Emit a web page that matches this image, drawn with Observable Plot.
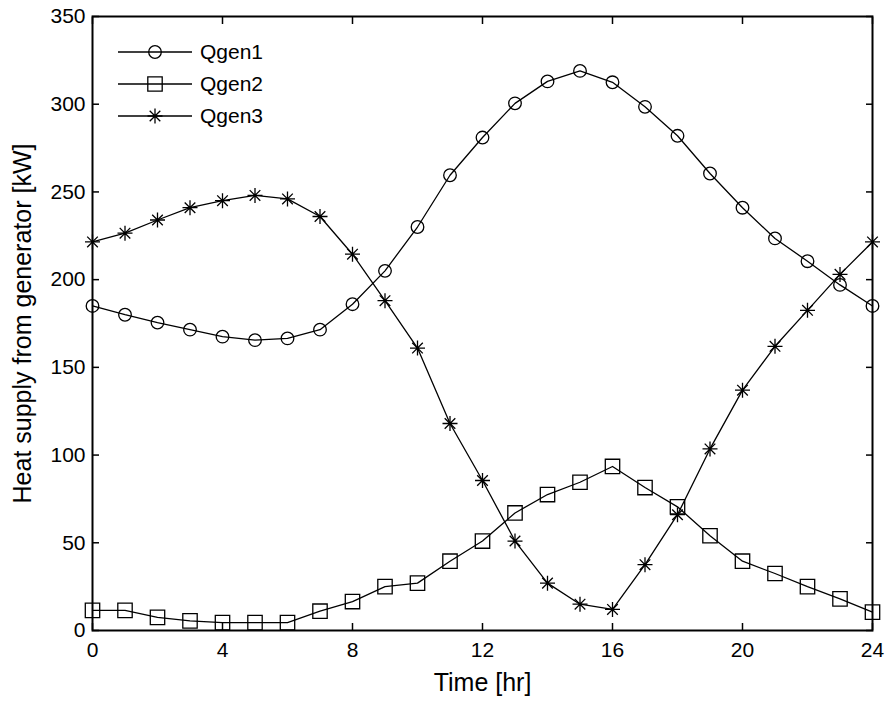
<!DOCTYPE html>
<html>
<head>
<meta charset="utf-8">
<script src="https://cdn.jsdelivr.net/npm/d3@7"></script>
<script src="https://cdn.jsdelivr.net/npm/@observablehq/plot@0.6"></script>
<style>
  html, body { margin: 0; padding: 0; background: #fff; }
  #chart svg { display: block; }
</style>
</head>
<body>
<div id="chart"></div>
<script>
// ---- data ----
const hours = [0,1,2,3,4,5,6,7,8,9,10,11,12,13,14,15,16,17,18,19,20,21,22,23,24];
const qgen1 = [185,180,175.5,171.5,167.5,165.5,166.5,171.5,186,205,230,259.5,281,300.5,313,319,312.5,298.5,282,260.5,241,223.5,210.5,197,185];
const qgen2 = [11.5,11.5,7.5,5.5,4.5,4.5,4.5,11,16.5,25,27,39.5,51,67,77.5,84.5,93.5,81.5,70.5,54,39.5,32.5,25,18,10.5];
const qgen3 = [221.5,226.5,234,241,245,248,246,236,214.5,188,161,118,85.5,51,27,15,12,37.5,66,103.5,137,162,182.5,203,221.5];
const seriesNames = ["Qgen1", "Qgen2", "Qgen3"];
const xTicks = [0,4,8,12,16,20,24];
const yTicks = [0,50,100,150,200,250,300,350];
const xLabel = "Time [hr]";
const yLabel = "Heat supply from generator [kW]";

// ---- marker shapes (MATLAB-like, unfilled) ----
const circleSym = {draw(ctx) { const r = 6.3; ctx.moveTo(r, 0); ctx.arc(0, 0, r, 0, 2 * Math.PI); ctx.closePath(); }};
const squareSym = {draw(ctx) { const s = 7.2; ctx.moveTo(-s, -s); ctx.lineTo(s, -s); ctx.lineTo(s, s); ctx.lineTo(-s, s); ctx.closePath(); }};
const starSym = {draw(ctx) {
  const a = 7.5, d = 5.3;
  ctx.moveTo(0, -a); ctx.lineTo(0, a);
  ctx.moveTo(-a, 0); ctx.lineTo(a, 0);
  ctx.moveTo(-d, -d); ctx.lineTo(d, d);
  ctx.moveTo(-d, d); ctx.lineTo(d, -d);
}};
const symbolsBySeries = [circleSym, squareSym, starSym];

const valuesBySeries = [qgen1, qgen2, qgen3];
const rows = seriesNames.flatMap((name, i) =>
  hours.map((h, j) => ({hour: h, value: valuesBySeries[i][j], series: name})));

const font = "'Liberation Sans', Arial, Helvetica, sans-serif";
const lineW = 1.3;

const marks = [];
// inward ticks on all four sides
marks.push(Plot.axisX(xTicks, {anchor: "bottom", tickSize: -7, tickFormat: () => "", label: null, strokeWidth: 1.5}));
marks.push(Plot.axisX(xTicks, {anchor: "top", tickSize: -7, tickFormat: () => "", label: null, strokeWidth: 1.5}));
marks.push(Plot.axisY(yTicks, {anchor: "left", tickSize: -7, tickFormat: () => "", label: null, strokeWidth: 1.5}));
marks.push(Plot.axisY(yTicks, {anchor: "right", tickSize: -7, tickFormat: () => "", label: null, strokeWidth: 1.5}));
// tick labels
marks.push(Plot.axisX(xTicks, {anchor: "bottom", tickSize: 0, tickPadding: 12, fontSize: 21, label: null, tickFormat: d => String(d)}));
marks.push(Plot.axisY(yTicks, {anchor: "left", tickSize: 0, tickPadding: 7, fontSize: 21, label: null, tickFormat: d => String(d)}));
// axis titles
marks.push(Plot.text([xLabel], {frameAnchor: "bottom", dy: 52, fontSize: 25, lineAnchor: "middle", textAnchor: "middle", text: d => d}));
marks.push(Plot.text([yLabel], {frameAnchor: "left", dx: -70, rotate: -90, fontSize: 25, lineAnchor: "middle", textAnchor: "middle", text: d => d}));
// series
seriesNames.forEach((name, i) => {
  const data = rows.filter(r => r.series === name);
  marks.push(Plot.line(data, {x: "hour", y: "value", stroke: "black", strokeWidth: lineW}));
  marks.push(Plot.dot(data, {x: "hour", y: "value", symbol: symbolsBySeries[i], r: 1, fill: "none", stroke: "black", strokeWidth: lineW}));
});
marks.push(Plot.frame({stroke: "black", strokeWidth: 2}));

const chart = Plot.plot({
  width: 885,
  height: 702,
  marginLeft: 92,
  marginRight: 13,
  marginTop: 16,
  marginBottom: 72,
  style: {fontFamily: font, background: "white", color: "black", overflow: "visible"},
  x: {domain: [0, 24], axis: null},
  y: {domain: [0, 350], axis: null},
  marks
});
document.getElementById("chart").appendChild(chart);

// ---- legend (inside plot, top-left) ----
const svg = d3.select(chart);
const lg = svg.append("g").attr("font-family", font).attr("font-size", 21).attr("text-anchor", "start");
seriesNames.forEach((name, i) => {
  const y = 52 + i * 32;
  const g = lg.append("g").attr("transform", `translate(0,${y})`);
  g.append("line").attr("x1", 118).attr("x2", 192).attr("y1", 0).attr("y2", 0)
    .attr("stroke", "black").attr("stroke-width", lineW);
  g.append("path").attr("d", d3.symbol().type(symbolsBySeries[i])())
    .attr("transform", "translate(155,0)")
    .attr("fill", "none").attr("stroke", "black").attr("stroke-width", lineW);
  g.append("text").attr("x", 200).attr("y", 0).attr("dy", "0.35em").attr("fill", "black")
    .attr("text-anchor", "start").text(name);
});
</script>
</body>
</html>
